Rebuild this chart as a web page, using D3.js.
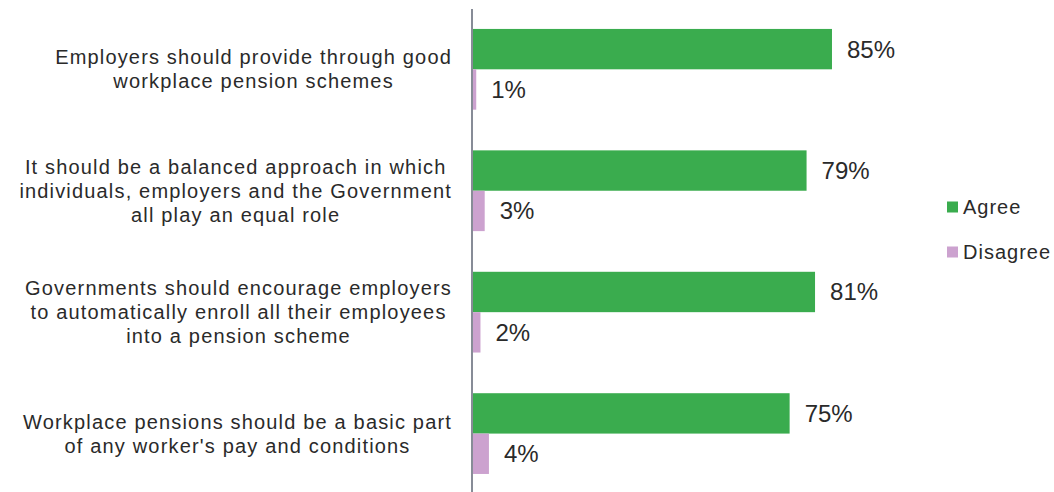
<!DOCTYPE html>
<html>
<head>
<meta charset="utf-8">
<script src="https://cdn.jsdelivr.net/npm/d3@7"></script>
<style>
  html, body { margin: 0; padding: 0; background: #fff; }
  svg { display: block; }
  text { font-family: "Liberation Sans", Arial, sans-serif; fill: #2a2a2a; }
</style>
</head>
<body>
<svg id="chart" width="1054" height="492"></svg>
<script>
const categories = [
  "Employers should provide through good\nworkplace pension schemes",
  "It should be a balanced approach in which\nindividuals, employers and the Government\nall play an equal role",
  "Governments should encourage employers\nto automatically enroll all their employees\ninto a pension scheme",
  "Workplace pensions should be a basic part\nof any worker's pay and conditions"
];
const seriesNames = ["Agree", "Disagree"];
const agree = [85, 79, 81, 75];
const disagree = [1, 3, 2, 4];
const colors = ["#3aac4e", "#cca2cf"];

const svg = d3.select("#chart");
const x0 = 472;
const x = d3.scaleLinear().domain([0, 100]).range([x0, x0 + 423.5]);
const y = d3.scaleBand().domain(categories).range([8.6, 494.3]).paddingInner(0.335).paddingOuter(0.1675);
const ySub = d3.scaleBand().domain(seriesNames).range([0, y.bandwidth()]);

const series = [agree, disagree];

const groups = svg.selectAll("g.cat").data(categories).join("g")
  .attr("class", "cat")
  .attr("transform", d => `translate(0,${y(d)})`);

seriesNames.forEach((s, si) => {
  groups.append("rect")
    .attr("x", x(0))
    .attr("y", ySub(s))
    .attr("width", (d, i) => x(series[si][i]) - x(0))
    .attr("height", ySub.bandwidth())
    .attr("fill", colors[si]);
  groups.append("text")
    .attr("x", (d, i) => x(series[si][i]) + 15)
    .attr("y", ySub(s) + ySub.bandwidth() / 2)
    .attr("dy", "0.35em")
    .attr("font-size", 24)
    .text((d, i) => series[si][i] + "%");
});

// axis line
svg.append("line")
  .attr("x1", x(0)).attr("x2", x(0))
  .attr("y1", 9).attr("y2", 492)
  .attr("stroke", "#878c97").attr("stroke-width", 2);

// category labels
const lineH = 24;
groups.each(function(d) {
  const g = d3.select(this);
  const lines = d.split("\n");
  const t = g.append("text")
    .attr("font-size", 20)
    .attr("letter-spacing", "1.17px")
    .attr("text-anchor", "middle");
  const spans = t.selectAll("tspan").data(lines).join("tspan")
    .attr("y", (l, i) => y.bandwidth() / 2 + (i - (lines.length - 1) / 2) * lineH)
    .attr("dy", "0.35em")
    .text(l => l);
  let maxW = 0;
  spans.each(function() { maxW = Math.max(maxW, this.getComputedTextLength()); });
  const cx = 452 - maxW / 2;
  spans.attr("x", cx);
});

// legend
const legend = svg.append("g").attr("transform", "translate(947,207)");
seriesNames.forEach((s, i) => {
  const lg = legend.append("g").attr("transform", `translate(0,${i * 45})`);
  lg.append("rect").attr("x", 0).attr("y", -5.5).attr("width", 11).attr("height", 11).attr("fill", colors[i]);
  lg.append("text").attr("x", 16).attr("y", 0).attr("dy", "0.35em")
    .attr("font-size", 20).attr("letter-spacing", "1px").text(s);
});
</script>
</body>
</html>
